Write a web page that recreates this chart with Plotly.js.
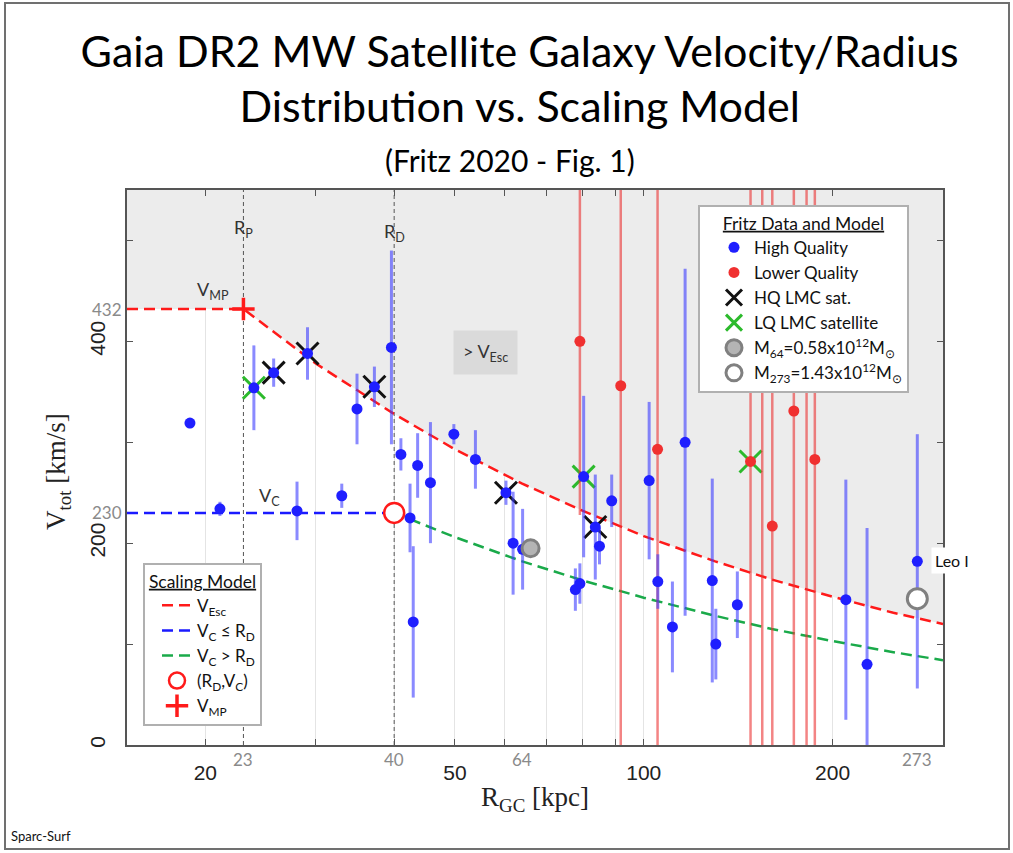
<!DOCTYPE html>
<html><head><meta charset="utf-8">
<script src="https://cdn.plot.ly/plotly-3.0.1.min.js"></script>
<style>
body{margin:0;background:#fff;}
#wrap{position:relative;width:1013px;height:853px;}
#chart{width:1013px;height:853px;}
#frame{position:absolute;left:4px;top:2px;width:1006px;height:848px;border:2px solid #707070;box-sizing:border-box;pointer-events:none;}
</style>
</head><body>
<div id="wrap"><div id="chart"></div><div id="frame"></div></div>
<script>
// ---- Data ----
// High-quality satellites (R_GC kpc, V_tot km/s, error)
const hqR   = [18.9,21.1,23.9,25.7,28.0,29.1,33.0,34.9,37.2,39.6,41.0,42.4,42.9,43.6,45.7,49.8,53.9,60.3,61.9,64.1,77.8,79.1,80.2,83.7,85.0,88.9,102,105.3,111.1,116.4,128.6,130.3,141,210,227,273];
const hqV   = [319,234,354,369,232,388,247,333,355,394,288,225,122,277,260,308,283,250,200,194,154,160,266,216,197,242,262,162,117,300,163,100,139,144,80,182];
const hqErr = [5,7,42,14,29,26,12,35,20,96,16,34,75,32,60,10,29,12,51,40,21,20,80,52,18,26,78,27,45,172,101,35,33,119,135,126];
// Lower-quality satellites
const lqR   = [79.1,91.9,105.2,148,154.5,160.3,173.5,181.8,187.4];
const lqV   = [400,356,293,281,580,217,331,620,283];
const lqErr = [172,600,600,600,640,600,600,660,600];
// LMC satellites
const lmcHqR = [25.7,29.1,37.2,60.3,83.7];
const lmcHqV = [369,388,355,250,216];
const lmcLqR = [23.9,80.2,148];
const lmcLqV = [354,266,281];
// Mass markers
const m64R = [66], m64V = [195];
const m273R = [273], m273V = [145];
// Scaling model curves
const vEscR = [15,23,30,40,50,64,80,100,130,160,200,250,300];
const vEscV = [432,432,378,328,293,259,232,207,182,164,147,131,120];
const vcInR = [15,40];
const vcInV = [230,230];
const vcOutR = [40,50,64,80,100,130,160,200,250,300];
const vcOutV = [230,206,182,163,146,128,115,103,92,84];
const rdR = [40], rdV = [230];
const rpR = [23], vmpV = [432];
// Tick labels
const xTickVals = [20,30,40,50,60,70,80,90,100,200,300];
const xTickText = ['20','','','50','','','','','100','200',''];
const yTickVals = [0,100,200,300,400,500];
const yTickText = ['0','','200','','400',''];
const grayXLabels = [23,40,64,273];
const grayYLabels = [432,230];

const Y_TOP = 550;
const X_MIN = 15, X_MAX = 300;
const L = Math.log10;
const PX = v => (745 - v) / 555;   // page px row -> paper y
const PXx = v => (v - 127) / 816; // page px col -> paper x

const traces = [];
traces.push({x: vEscR.concat(vEscR.slice().reverse()), y: vEscV.concat(vEscR.map(()=>Y_TOP)),
  fill:'toself', fillcolor:'#ececec', line:{width:0}, mode:'lines', showlegend:false, hoverinfo:'skip'});
[rpR[0], rdR[0]].forEach(r=>traces.push({x:[r,r], y:[0,Y_TOP], mode:'lines', line:{color:'#555', width:1, dash:'4px,3px'}, showlegend:false, hoverinfo:'skip'}));
traces.push({x:vEscR, y:vEscV, mode:'lines', name:'V<sub>Esc</sub>', legend:'legend2', line:{color:'#ff1a1a', width:2.5, dash:'11px,6px'}});
traces.push({x:vcInR, y:vcInV, mode:'lines', name:'V<sub>C</sub> ≤ R<sub>D</sub>', legend:'legend2', line:{color:'#1a1aff', width:2.5, dash:'11px,6px'}});
traces.push({x:vcOutR, y:vcOutV, mode:'lines', name:'V<sub>C</sub> > R<sub>D</sub>', legend:'legend2', line:{color:'#1aaa4a', width:2.5, dash:'11px,6px'}});
traces.push({x:lmcHqR, y:lmcHqV, mode:'markers', name:'HQ LMC sat.', legendrank:3,
  marker:{symbol:'x-thin-open', size:22, color:'#111', line:{color:'#111', width:3}}});
traces.push({x:lmcLqR, y:lmcLqV, mode:'markers', name:'LQ LMC satellite', legendrank:4,
  marker:{symbol:'x-thin-open', size:22, color:'#2cba2c', line:{color:'#2cba2c', width:3}}});
traces.push({x:lqR, y:lqV, mode:'markers', name:'Lower Quality', legendrank:2,
  marker:{color:'#f03030', size:11},
  error_y:{type:'data', array:lqErr, color:'rgba(235,50,50,0.6)', thickness:2.5, width:0}});
traces.push({x:hqR, y:hqV, mode:'markers', name:'High Quality', legendrank:1,
  marker:{color:'#1f1fff', size:11},
  error_y:{type:'data', array:hqErr, color:'rgba(60,60,255,0.6)', thickness:3, width:0}});
traces.push({x:m64R, y:m64V, mode:'markers', name:'M<sub>64</sub>=0.58x10<sup>12</sup>M<sub>⊙</sub>', legendrank:5,
  marker:{color:'#b4b4b4', size:17, line:{color:'#808080', width:3}}});
traces.push({x:m273R, y:m273V, mode:'markers', name:'M<sub>273</sub>=1.43x10<sup>12</sup>M<sub>⊙</sub>', legendrank:6,
  marker:{color:'#ffffff', size:20, line:{color:'#808080', width:3}}});
traces.push({x:rdR, y:rdV, mode:'markers', name:'(R<sub>D</sub>,V<sub>C</sub>)', legend:'legend2',
  marker:{color:'#ffffff', size:20, line:{color:'#ff1a1a', width:2.5}}});
traces.push({x:rpR, y:vmpV, mode:'markers', name:'V<sub>MP</sub>', legend:'legend2',
  marker:{symbol:'cross-thin-open', size:16, color:'#ff1a1a', line:{color:'#ff1a1a', width:3.5}}});

const lab = {family:'Lato, Open Sans, sans-serif', size:18, color:'#333'};
const annotations = [
  {text:'(Fritz 2020 - Fig. 1)', xref:'paper', yref:'paper', x:PXx(510), y:PX(160), yanchor:'middle', showarrow:false, font:{family:'Lato', size:30, color:'#000'}},
  {text:'V<sub>tot</sub> [km/s]', xref:'paper', yref:'paper', x:PXx(58), y:PX(472), xanchor:'center', yanchor:'middle', textangle:-90, showarrow:false, font:{family:'Liberation Serif, serif', size:27, color:'#222'}},
  {text:'R<sub>P</sub>', x:L(23), y:512, yanchor:'middle', showarrow:false, font:lab},
  {text:'R<sub>D</sub>', x:L(40), y:508, yanchor:'middle', showarrow:false, font:lab},
  {text:'V<sub>MP</sub>', x:L(20.6), y:450, yanchor:'middle', showarrow:false, font:lab},
  {text:'V<sub>C</sub>', x:L(25.3), y:246, yanchor:'middle', showarrow:false, font:lab},
  {text:'> V<sub>Esc</sub>', x:L(56), y:389, yanchor:'middle', showarrow:false, font:lab, bgcolor:'#dadada', borderpad:9},
  {text:'Leo I', xref:'paper', x:PXx(931), xanchor:'left', y:183, yanchor:'middle', showarrow:false, font:{family:'Lato', size:16, color:'#111'}, bgcolor:'#ffffff', borderpad:3},
  {text:'Sparc-Surf', xref:'paper', yref:'paper', x:PXx(9), xanchor:'left', y:PX(836), yanchor:'middle', showarrow:false, font:{family:'Lato', size:13, color:'#111'}}
];
grayXLabels.forEach(v=>annotations.push({text:String(v), x:L(v), yref:'paper', y:PX(759), yanchor:'middle', showarrow:false, font:{family:'Lato', size:17, color:'#8a8a8a'}}));
grayYLabels.forEach(v=>annotations.push({text:String(v), xref:'paper', x:PXx(124), xanchor:'right', y:v, yanchor:'middle', showarrow:false, font:{family:'Lato', size:17, color:'#8a8a8a'}}));

const layout = {
  width:1013, height:853,
  margin:{l:127, r:70, t:190, b:108},
  paper_bgcolor:'#ffffff', plot_bgcolor:'#ffffff',
  title:{text:'Gaia DR2 MW Satellite Galaxy Velocity/Radius<br>Distribution vs. Scaling Model', font:{family:'Lato, sans-serif', size:43, color:'#000'},
    x:0.513, xanchor:'center', yref:'container', y:0.922, yanchor:'top'},
  showlegend:true,
  legend:{x:PXx(698), y:PX(205), xanchor:'left', yanchor:'top', bgcolor:'#ffffff', bordercolor:'#b0b0b0', borderwidth:2,
    font:{family:'Lato, sans-serif', size:17, color:'#111'}, traceorder:'normal', indentation:14,
    title:{text:'<span style="text-decoration:underline">Fritz Data and Model</span>', side:'top center', font:{family:'Lato, sans-serif', size:17.5, color:'#111'}}},
  legend2:{x:PXx(143), y:PX(563), xanchor:'left', yanchor:'top', bgcolor:'#ffffff', bordercolor:'#b0b0b0', borderwidth:2,
    font:{family:'Lato, sans-serif', size:17, color:'#111'}, indentation:12,
    title:{text:'<span style="text-decoration:underline">Scaling Model</span>', side:'top center', font:{family:'Lato, sans-serif', size:17.5, color:'#111'}}},
  xaxis:{type:'log', range:[L(X_MIN), L(X_MAX)], tickvals:xTickVals, ticktext:xTickText,
    showgrid:true, gridcolor:'#e4e4e4', gridwidth:1, zeroline:false,
    showline:true, linecolor:'#555', linewidth:2, mirror:'ticks', ticks:'inside', ticklen:6, tickcolor:'#555',
    tickfont:{family:'Liberation Sans, Arial, sans-serif', size:21, color:'#222'}, ticklabelstandoff:8,
    title:{text:'R<sub>GC</sub> [kpc]', font:{family:'Liberation Serif, serif', size:27, color:'#222'}, standoff:4}},
  yaxis:{range:[0, Y_TOP], tickvals:yTickVals, ticktext:yTickText, tickangle:-90,
    showgrid:false, zeroline:false,
    showline:true, linecolor:'#555', linewidth:2, mirror:'ticks', ticks:'inside', ticklen:6, tickcolor:'#555',
    tickfont:{family:'Liberation Sans, Arial, sans-serif', size:21, color:'#222'}, ticklabelstandoff:12},
  annotations: annotations
};
Plotly.newPlot('chart', traces, layout, {displayModeBar:false, staticPlot:true});
</script>
</body></html>
